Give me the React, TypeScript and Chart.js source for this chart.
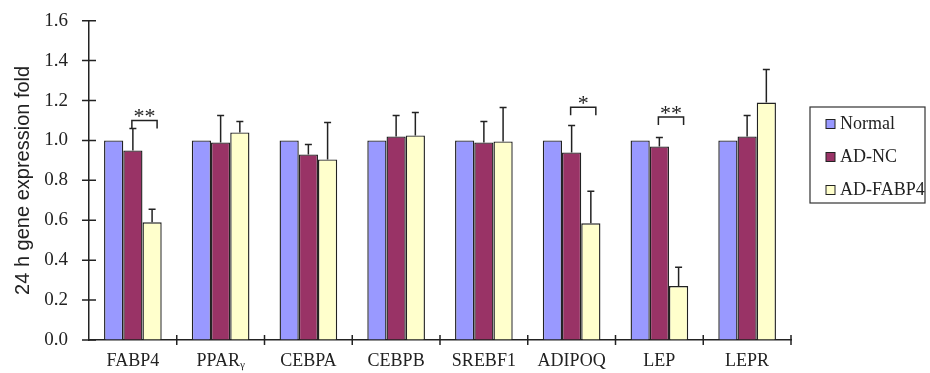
import React, { useEffect, useRef } from "react";
import { Chart, registerables } from "chart.js";

Chart.register(...registerables);

const categories = ["FABP4", "PPARᵧ", "CEBPA", "CEBPB", "SREBF1", "ADIPOQ", "LEP", "LEPR"];
const seriesNames = ["Normal", "AD-NC", "AD-FABP4"];
const normalValues = [1.0, 1.0, 1.0, 1.0, 1.0, 1.0, 1.0, 1.0];
const adNcValues = [0.95, 0.99, 0.93, 1.02, 0.99, 0.94, 0.97, 1.02];
const adFabp4Values = [0.59, 1.04, 0.905, 1.025, 0.995, 0.585, 0.27, 1.19];
const normalErrors = [0, 0, 0, 0, 0, 0, 0, 0];
const adNcErrors = [0.11, 0.135, 0.05, 0.105, 0.105, 0.135, 0.045, 0.105];
const adFabp4Errors = [0.065, 0.055, 0.185, 0.115, 0.17, 0.16, 0.095, 0.165];
const sigCategories = ["FABP4", "ADIPOQ", "LEP"];
const sigLabels = ["**", "*", "**"];
const sigLevels = [1.1, 1.166, 1.117];
const yTicks = [0, 0.2, 0.4, 0.6, 0.8, 1.0, 1.2, 1.4, 1.6];

const colors = ["#9999FF", "#993366", "#FFFFCC"];
const SERIF = "'Liberation Serif', 'Times New Roman', serif";
const SANS = "'Liberation Sans', Arial, sans-serif";

const errorsByDataset = [normalErrors, adNcErrors, adFabp4Errors];

const errorBarPlugin = {
  id: "errorBars",
  afterDatasetsDraw(chart: any) {
    const ctx = chart.ctx;
    const y = chart.scales.y;
    ctx.save();
    ctx.strokeStyle = "#222";
    ctx.lineWidth = 1.5;
    chart.data.datasets.forEach((ds: any, di: number) => {
      const meta = chart.getDatasetMeta(di);
      const errs = errorsByDataset[di];
      meta.data.forEach((el: any, i: number) => {
        const e = errs[i];
        if (!e) return;
        const top = y.getPixelForValue(ds.data[i] + e);
        ctx.beginPath();
        ctx.moveTo(el.x, el.y);
        ctx.lineTo(el.x, top);
        ctx.moveTo(el.x - 3.5, top);
        ctx.lineTo(el.x + 3.5, top);
        ctx.stroke();
      });
    });
    ctx.restore();
  },
};

const sigPlugin = {
  id: "significance",
  afterDatasetsDraw(chart: any) {
    const ctx = chart.ctx;
    const y = chart.scales.y;
    const m1 = chart.getDatasetMeta(1);
    const m2 = chart.getDatasetMeta(2);
    ctx.save();
    ctx.strokeStyle = "#222";
    ctx.lineWidth = 1.5;
    ctx.fillStyle = "#222";
    ctx.font = `22px ${SERIF}`;
    ctx.textAlign = "center";
    ctx.textBaseline = "alphabetic";
    sigCategories.forEach((c, k) => {
      const i = categories.indexOf(c);
      const x1 = m1.data[i].x - 1;
      const x2 = m2.data[i].x + 5;
      const yt = y.getPixelForValue(sigLevels[k]);
      ctx.beginPath();
      ctx.moveTo(x1, yt + 8);
      ctx.lineTo(x1, yt);
      ctx.lineTo(x2, yt);
      ctx.lineTo(x2, yt + 8);
      ctx.stroke();
      ctx.fillText(sigLabels[k], (x1 + x2) / 2, yt + 3);
    });
    ctx.restore();
  },
};

const axisTicksPlugin = {
  id: "axisTicks",
  afterDraw(chart: any) {
    const ctx = chart.ctx;
    const y = chart.scales.y;
    const a = chart.chartArea;
    ctx.save();
    ctx.strokeStyle = "#222";
    ctx.lineWidth = 1.5;
    ctx.beginPath();
    yTicks.forEach((v) => {
      const py = y.getPixelForValue(v);
      ctx.moveTo(a.left - 7, py);
      ctx.lineTo(a.left + 7, py);
    });
    const n = categories.length;
    const w = (a.right - a.left) / n;
    for (let i = 1; i <= n; i++) {
      const px = a.left + i * w;
      ctx.moveTo(px, a.bottom - 5);
      ctx.lineTo(px, a.bottom + 5);
    }
    ctx.stroke();
    ctx.restore();
  },
};

const legendPlugin = {
  id: "customLegend",
  afterDraw(chart: any) {
    const ctx = chart.ctx;
    const a = chart.chartArea;
    const left = a.right + 19;
    const top = 107;
    ctx.save();
    ctx.strokeStyle = "#333";
    ctx.lineWidth = 1.2;
    ctx.strokeRect(left, top, 115, 96);
    ctx.font = `18px ${SERIF}`;
    ctx.textBaseline = "middle";
    ctx.textAlign = "left";
    seriesNames.forEach((name, i) => {
      const cy = top + 17 + i * 33;
      ctx.fillStyle = colors[i];
      ctx.fillRect(left + 16, cy - 4.5, 9, 9);
      ctx.strokeStyle = "#222";
      ctx.lineWidth = 1;
      ctx.strokeRect(left + 16, cy - 4.5, 9, 9);
      ctx.fillStyle = "#222";
      ctx.fillText(name, left + 30, cy);
    });
    ctx.restore();
  },
};

export default function App() {
  const ref = useRef<HTMLCanvasElement>(null);
  useEffect(() => {
    if (!ref.current) return;
    const values = [normalValues, adNcValues, adFabp4Values];
    const chart = new Chart(ref.current, {
      type: "bar",
      data: {
        labels: categories,
        datasets: seriesNames.map((name, i) => ({
          label: name,
          data: values[i],
          backgroundColor: colors[i],
          borderColor: "#222",
          borderWidth: 1.4,
          categoryPercentage: 0.657,
          barPercentage: 1.0,
        })),
      },
      options: {
        animation: false,
        responsive: false,
        maintainAspectRatio: false,
        layout: { padding: { top: 20.7, right: 139, bottom: 0, left: 0 } },
        plugins: { legend: { display: false }, tooltip: { enabled: false } },
        scales: {
          x: {
            grid: { display: false, drawTicks: false },
            border: { display: true, color: "#222", width: 1.5 },
            ticks: { color: "#222", font: { family: SERIF, size: 18 }, padding: 10, maxRotation: 0, autoSkip: false },
            afterFit: (s: any) => { s.height = 33; },
          },
          y: {
            min: 0,
            max: 1.6,
            afterBuildTicks: (s: any) => { s.ticks = yTicks.map((v) => ({ value: v })); },
            grid: { display: true, drawOnChartArea: false, drawTicks: true, tickLength: 14, tickColor: "rgba(0,0,0,0)" },
            border: { display: true, color: "#222", width: 1.5 },
            ticks: {
              color: "#222",
              font: { family: SERIF, size: 19 },
              padding: 7,
              callback: (v: any) => Number(v).toFixed(1),
            },
            title: {
              display: true,
              text: "24 h gene expression fold",
              color: "#222",
              font: { family: SANS, size: 20 },
              padding: { top: 11, bottom: 0 },
            },
            afterFit: (s: any) => { s.width = 89; },
          },
        },
      },
      plugins: [errorBarPlugin, sigPlugin, axisTicksPlugin, legendPlugin],
    });
    return () => chart.destroy();
  }, []);
  return (
    <div style={{ position: "absolute", left: 0, top: 0, width: 930, height: 373, background: "#fff" }}>
      <canvas ref={ref} width={930} height={373} />
    </div>
  );
}
